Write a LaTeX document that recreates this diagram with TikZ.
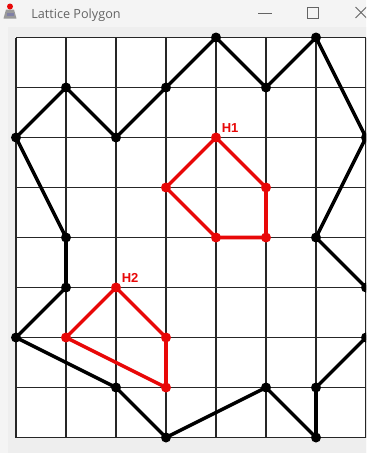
\documentclass[tikz,border=0pt]{standalone}
\usepackage{fontspec}
\newfontfamily\titlefont{Open Sans}
\newfontfamily\labelfont{Liberation Sans}
\definecolor{holered}{RGB}{232,8,8}
\definecolor{winbg}{RGB}{238,238,238}
\definecolor{titlebg}{RGB}{244,244,244}
\definecolor{titlegray}{RGB}{100,100,100}

\begin{document}
\begin{tikzpicture}[y=-1cm,
  gridline/.style={black!85,line width=0.6pt},
  outerline/.style={black,line width=2pt,line join=round},
  holeline/.style={holered,line width=2pt,line join=round},
  holelabel/.style={text=holered,font=\labelfont\bfseries\fontsize{7.4}{9}\selectfont,
    anchor=base west,inner sep=0pt,xshift=1.1mm,yshift=1mm},
  ctrl/.style={titlegray,line width=0.5pt}]

\useasboundingbox (-0.32,-0.75) rectangle (7,8.31);
\clip (-0.32,-0.75) rectangle (7,8.31);

% window
\fill[titlebg] (-0.32,-0.75) rectangle (7.2,8.4);
\fill[winbg] (-0.16,-0.21) rectangle (7.2,8.4);
\node[anchor=base west,inner sep=0pt,text=titlegray,font=\titlefont\fontsize{7.2}{8}\selectfont]
  (title) at (0.30,-0.39) {Lattice Polygon};
\fill[black!40] (-0.25,-0.38) -- (-0.20,-0.56) -- (-0.04,-0.56) -- (0.01,-0.38) -- cycle;
\fill[blue!30!black!50] (-0.19,-0.43) rectangle (-0.05,-0.50);
\fill[holered] (-0.12,-0.62) circle[radius=0.06];
\draw[ctrl] (4.84,-0.49) -- (5.12,-0.49);
\draw[ctrl] (5.83,-0.61) rectangle (6.05,-0.39);
\draw[ctrl] (6.79,-0.61) -- (7.01,-0.39);
\draw[ctrl] (6.79,-0.39) -- (7.01,-0.61);

% lattice
\fill[white] (0,0) rectangle (7,8);
\draw[gridline] (0,0) grid (7,8);

% outer polygon
\foreach \x/\y [count=\k] in {4/0,5/1,6/0,7/2,6/4,7/5,7/6,6/7,6/8,5/7,
    3/8,2/7,0/6,1/5,1/4,0/2,1/1,2/2,3/1}
  \coordinate (o\k) at (\x,\y);
\coordinate (hid) at (7.5,5.5);
\draw[outerline] (o1) -- (o2) -- (o3) -- (o4) -- (o5) -- (o6) -- (hid) -- (o7) -- (o8)
  -- (o9) -- (o10) -- (o11) -- (o12) -- (o13) -- (o14) -- (o15) -- (o16) -- (o17)
  -- (o18) -- (o19) -- cycle;
\foreach \k in {1,...,19}
  \fill (o\k) circle[radius=0.1];

% holes
\coordinate (a1) at (4,2);
\coordinate (a2) at (5,3);
\coordinate (a3) at (5,4);
\coordinate (a4) at (4,4);
\coordinate (a5) at (3,3);
\coordinate (b1) at (2,5);
\coordinate (b2) at (3,6);
\coordinate (b3) at (3,7);
\coordinate (b4) at (1,6);
\draw[holeline] (a1) -- (a2) -- (a3) -- (a4) -- (a5) -- cycle;
\draw[holeline] (b1) -- (b2) -- (b3) -- (b4) -- cycle;
\foreach \v in {a1,a2,a3,a4,a5,b1,b2,b3,b4}
  \fill[holered] (\v) circle[radius=0.1];
\node[holelabel] (h1) at (a1) {H1};
\node[holelabel] (h2) at (b1) {H2};

\end{tikzpicture}
\end{document}
